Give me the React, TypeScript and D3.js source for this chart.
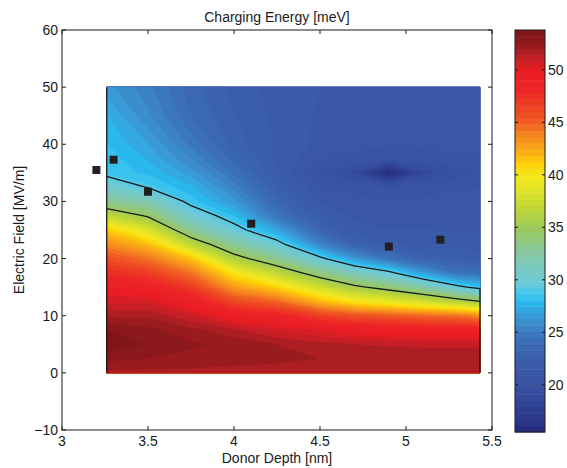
import { useEffect, useRef } from "react";
import * as d3 from "d3";

// grid: donor depth (nm) columns, electric field (MV/m) rows
const DEPTH = [3.26, 3.5, 3.75, 4.0, 4.25, 4.5, 4.7, 4.9, 5.1, 5.3, 5.43];
const FIELD = [0, 2.5, 5, 7.5, 10, 12.5, 15, 17.5, 20, 22.5, 25, 27.5, 30, 32.5, 35, 37.5, 40, 45, 50];

// charging energy (meV), one row per field value
const E_F00 = [51.8, 51.8, 51.8, 51.8, 51.8, 51.8, 51.8, 51.8, 51.8, 51.8, 51.8];
const E_F02 = [52.8, 52.6, 52.4, 52.2, 52.1, 52.0, 52.0, 52.0, 52.0, 52.0, 52.0];
const E_F05 = [53.8, 53.1, 52.7, 52.4, 52.0, 51.6, 51.4, 51.3, 51.2, 51.2, 51.2];
const E_F07 = [53.2, 52.8, 52.2, 51.5, 50.6, 50.2, 49.5, 49.2, 49.0, 48.8, 48.8];
const E_F10 = [51.8, 51.8, 50.9, 49.3, 48.5, 46.6, 45.8, 45.3, 44.7, 44.4, 43.6];
const E_F12 = [50.6, 50.6, 49.1, 46.1, 44.8, 41.9, 40.0, 39.0, 37.8, 36.2, 35.05];
const E_F15 = [49.6, 48.8, 46.8, 43.0, 40.9, 37.6, 35.5, 34.0, 32.1, 29.5, 28.3];
const E_F17 = [47.7, 46.7, 44.4, 40.0, 36.8, 33.7, 31.4, 29.5, 26.6, 24.5, 24.2];
const E_F20 = [45.8, 44.4, 41.5, 36.0, 33.1, 29.5, 26.5, 24.5, 23.0, 22.6, 22.4];
const E_F22 = [43.6, 41.7, 36.8, 32.8, 29.8, 25.5, 23.0, 22.3, 21.9, 21.8, 21.7];
const E_F25 = [41.2, 38.4, 33.0, 29.8, 27.0, 23.4, 21.8, 21.5, 21.5, 21.4, 21.4];
const E_F27 = [37.0, 34.7, 30.4, 28.0, 24.6, 22.2, 21.3, 21.2, 21.3, 21.2, 21.2];
const E_F30 = [33.0, 31.8, 28.4, 26.5, 23.4, 21.5, 21.1, 21.0, 21.1, 21.1, 21.1];
const E_F32 = [30.5, 28.9, 27.6, 25.4, 22.6, 21.0, 20.6, 20.3, 20.5, 20.8, 20.9];
const E_F35 = [28.5, 27.9, 26.6, 24.4, 22.1, 20.2, 19.0, 15.5, 18.8, 19.9, 20.4];
const E_F37 = [28.4, 27.4, 25.7, 23.6, 22.0, 21.0, 20.6, 20.3, 20.5, 20.8, 20.9];
const E_F40 = [28.1, 26.9, 24.9, 23.0, 22.0, 21.3, 21.1, 21.0, 21.0, 21.1, 21.1];
const E_F45 = [27.5, 25.8, 23.9, 22.7, 21.9, 21.4, 21.2, 21.1, 21.1, 21.1, 21.1];
const E_F50 = [26.5, 25.3, 23.5, 22.5, 21.8, 21.5, 21.3, 21.2, 21.2, 21.1, 21.0];

const ENERGY = [E_F00, E_F02, E_F05, E_F07, E_F10, E_F12, E_F15, E_F17, E_F20, E_F22,
  E_F25, E_F27, E_F30, E_F32, E_F35, E_F37, E_F40, E_F45, E_F50];

// measured points (squares)
const PT_DEPTH = [3.2, 3.3, 3.5, 4.1, 4.9, 5.2];
const PT_FIELD = [35.5, 37.3, 31.7, 26.1, 22.1, 23.3];

const LINE_LEVELS = [29, 35];
const E_MIN = 15.5;
const E_MAX = 53.8;
const N_LEVELS = 64;

const X_TICKS = [3, 3.5, 4, 4.5, 5, 5.5];
const Y_TICKS = [-10, 0, 10, 20, 30, 40, 50, 60];
const CB_TICKS = [20, 25, 30, 35, 40, 45, 50];

// printed "jet" colormap
const CMAP_V = [15.5, 16.5, 17.8, 19.4, 20.8, 23.0, 24.6, 25.9, 26.9, 27.8, 28.6, 29.7, 31.0, 32.6, 34.6,
  36.7, 38.3, 39.9, 40.9, 42.1, 43.7, 45.0, 46.5, 48.0, 49.9, 51.2, 51.9, 52.7, 53.8];
const CMAP_C = ["#27297b", "#2b3587", "#2f4192", "#364e9f", "#3a55a4", "#3a62ad", "#3b74ba", "#3b8dcb",
  "#39a1db", "#29b8ec", "#3fc6ef", "#6ccbd9", "#78c9c3", "#86c7a0", "#98c865", "#bcd637", "#dce22a",
  "#f4e81c", "#fed408", "#fbb215", "#f68a1f", "#f15f22", "#ee4123", "#ed2626", "#ea1d25", "#c21f25",
  "#a51d21", "#8e1a1c", "#7b1416"];

const FONT = "'Liberation Sans', Arial, Helvetica, sans-serif";
const INK = "#1a1a1a";

export default function App() {
  const svgRef = useRef<SVGSVGElement>(null);

  useEffect(() => {
    if (!svgRef.current) return;
    const W = 567, H = 468;
    const m = { left: 62, right: 492, top: 30, bottom: 430 };
    const cb = { left: 515, right: 545, top: 30, bottom: 432 };

    const svg = d3.select(svgRef.current);
    svg.selectAll("*").remove();
    svg.attr("width", W).attr("height", H);

    svg.append("rect").attr("width", W).attr("height", H).attr("fill", "#fff");

    const x = d3.scaleLinear().domain([3, 5.5]).range([m.left, m.right]);
    const y = d3.scaleLinear().domain([-10, 60]).range([m.bottom, m.top]);

    const nx = DEPTH.length, ny = FIELD.length;
    const values = ENERGY.flat();
    const step = (E_MAX - E_MIN) / N_LEVELS;
    const levels = d3.range(N_LEVELS).map((k) => E_MIN + k * step);
    const cmap = d3.scaleLinear<string>().domain(CMAP_V).range(CMAP_C).clamp(true);
    const bandColor = (k: number) => cmap(E_MIN + (k + 0.5) * step);

    // grid coordinates (value i sits at i + 0.5) -> pixel
    const gx = (c: number) => {
      const t = Math.max(0, Math.min(nx - 1, c - 0.5));
      const i = Math.min(nx - 2, Math.floor(t));
      return x(DEPTH[i] + (t - i) * (DEPTH[i + 1] - DEPTH[i]));
    };
    const gy = (c: number) => {
      const t = Math.max(0, Math.min(ny - 1, c - 0.5));
      const j = Math.min(ny - 2, Math.floor(t));
      return y(FIELD[j] + (t - j) * (FIELD[j + 1] - FIELD[j]));
    };
    const proj = d3.geoTransform({
      point(px: number, py: number) { this.stream.point(gx(px), gy(py)); },
    });
    const path = d3.geoPath(proj);

    // Filled contours
    const filled = d3.contours().size([nx, ny]).thresholds(levels)(values);
    svg.append("g")
      .selectAll("path")
      .data(filled)
      .join("path")
      .attr("d", (d: any) => path(d))
      .attr("fill", (_d: any, i: number) => bandColor(i))
      .attr("stroke", (_d: any, i: number) => bandColor(i))
      .attr("stroke-width", 0.3);

    // Contour lines (interior only)
    const onBorder = (p: number[]) => p[0] <= 0 || p[0] >= nx || p[1] <= 0 || p[1] >= ny;
    LINE_LEVELS.forEach((lv) => {
      const c = d3.contours().size([nx, ny]).thresholds([lv])(values)[0];
      let d = "";
      c.coordinates.forEach((poly: number[][][]) => poly.forEach((ring) => {
        let pen = false;
        for (let i = 1; i < ring.length; i++) {
          const a = ring[i - 1], b = ring[i];
          if (onBorder(a) || onBorder(b)) { pen = false; continue; }
          if (!pen) { d += `M${gx(a[0])},${gy(a[1])}`; pen = true; }
          d += `L${gx(b[0])},${gy(b[1])}`;
        }
      }));
      svg.append("path").attr("d", d).attr("fill", "none")
        .attr("stroke", "#1a1a1a").attr("stroke-width", 1.3).attr("stroke-linejoin", "round");
    });

    // Edge lines of the data region
    const last = DEPTH.length - 1;
    const rightCol = ENERGY.map((row) => row[last]);
    let edgeTop = FIELD[0];
    for (let j = 1; j < FIELD.length; j++) {
      if (rightCol[j - 1] >= LINE_LEVELS[0] && rightCol[j] < LINE_LEVELS[0]) {
        const f = (rightCol[j - 1] - LINE_LEVELS[0]) / (rightCol[j - 1] - rightCol[j]);
        edgeTop = FIELD[j - 1] + f * (FIELD[j] - FIELD[j - 1]);
        break;
      }
    }
    svg.append("line")
      .attr("x1", x(DEPTH[0])).attr("x2", x(DEPTH[0]))
      .attr("y1", y(FIELD[0])).attr("y2", y(FIELD[FIELD.length - 1]))
      .attr("stroke", "#1a1a1a").attr("stroke-width", 1.3);
    svg.append("line")
      .attr("x1", x(DEPTH[last])).attr("x2", x(DEPTH[last]))
      .attr("y1", y(FIELD[0])).attr("y2", y(edgeTop))
      .attr("stroke", "#1a1a1a").attr("stroke-width", 1.3);

    // Points
    svg.append("g")
      .selectAll("rect")
      .data(PT_DEPTH)
      .join("rect")
      .attr("x", (d: number) => x(d) - 4)
      .attr("y", (_d: number, i: number) => y(PT_FIELD[i]) - 4)
      .attr("width", 8).attr("height", 8)
      .attr("fill", "#231f20");

    // Axes box + inward ticks
    const ax = svg.append("g").attr("stroke", INK).attr("stroke-width", 1);
    ax.append("rect")
      .attr("x", m.left).attr("y", m.top)
      .attr("width", m.right - m.left).attr("height", m.bottom - m.top)
      .attr("fill", "none");
    X_TICKS.forEach((t) => {
      ax.append("line").attr("x1", x(t)).attr("x2", x(t)).attr("y1", m.bottom).attr("y2", m.bottom - 4);
      ax.append("line").attr("x1", x(t)).attr("x2", x(t)).attr("y1", m.top).attr("y2", m.top + 4);
    });
    Y_TICKS.forEach((t) => {
      ax.append("line").attr("x1", m.left).attr("x2", m.left + 4).attr("y1", y(t)).attr("y2", y(t));
      ax.append("line").attr("x1", m.right).attr("x2", m.right - 4).attr("y1", y(t)).attr("y2", y(t));
    });

    const txt = svg.append("g").attr("font-family", FONT).attr("font-size", 14).attr("fill", INK);
    const fmt = d3.format("");
    X_TICKS.forEach((t) => {
      txt.append("text").attr("x", x(t)).attr("y", m.bottom + 16)
        .attr("text-anchor", "middle").text(fmt(t));
    });
    Y_TICKS.forEach((t) => {
      txt.append("text").attr("x", m.left - 4).attr("y", y(t)).attr("dy", "0.36em")
        .attr("text-anchor", "end").text(fmt(t));
    });

    txt.append("text").attr("x", (m.left + m.right) / 2).attr("y", 22)
      .attr("text-anchor", "middle").text("Charging Energy [meV]");
    txt.append("text").attr("x", (m.left + m.right) / 2).attr("y", 463)
      .attr("text-anchor", "middle").text("Donor Depth [nm]");
    txt.append("text")
      .attr("transform", `translate(24,${(m.top + m.bottom) / 2}) rotate(-90)`)
      .attr("text-anchor", "middle").text("Electric Field [MV/m]");

    // Colorbar
    const cy = d3.scaleLinear().domain([E_MIN, E_MAX]).range([cb.bottom, cb.top]);
    svg.append("g")
      .selectAll("rect")
      .data(levels)
      .join("rect")
      .attr("x", cb.left)
      .attr("width", cb.right - cb.left)
      .attr("y", (d: number) => cy(d + step))
      .attr("height", (d: number) => cy(d) - cy(d + step) + 0.5)
      .attr("fill", (_d: number, i: number) => bandColor(i));
    const cbg = svg.append("g").attr("stroke", INK).attr("stroke-width", 1);
    cbg.append("rect")
      .attr("x", cb.left).attr("y", cb.top)
      .attr("width", cb.right - cb.left).attr("height", cb.bottom - cb.top)
      .attr("fill", "none");
    CB_TICKS.forEach((t) => {
      cbg.append("line").attr("x1", cb.left).attr("x2", cb.left + 3).attr("y1", cy(t)).attr("y2", cy(t));
      cbg.append("line").attr("x1", cb.right).attr("x2", cb.right - 3).attr("y1", cy(t)).attr("y2", cy(t));
      txt.append("text").attr("x", cb.right + 3).attr("y", cy(t)).attr("dy", "0.36em")
        .attr("text-anchor", "start").text(fmt(t));
    });
  }, []);

  return (
    <svg
      ref={svgRef}
      style={{ position: "absolute", left: 0, top: 0, display: "block" }}
    />
  );
}
